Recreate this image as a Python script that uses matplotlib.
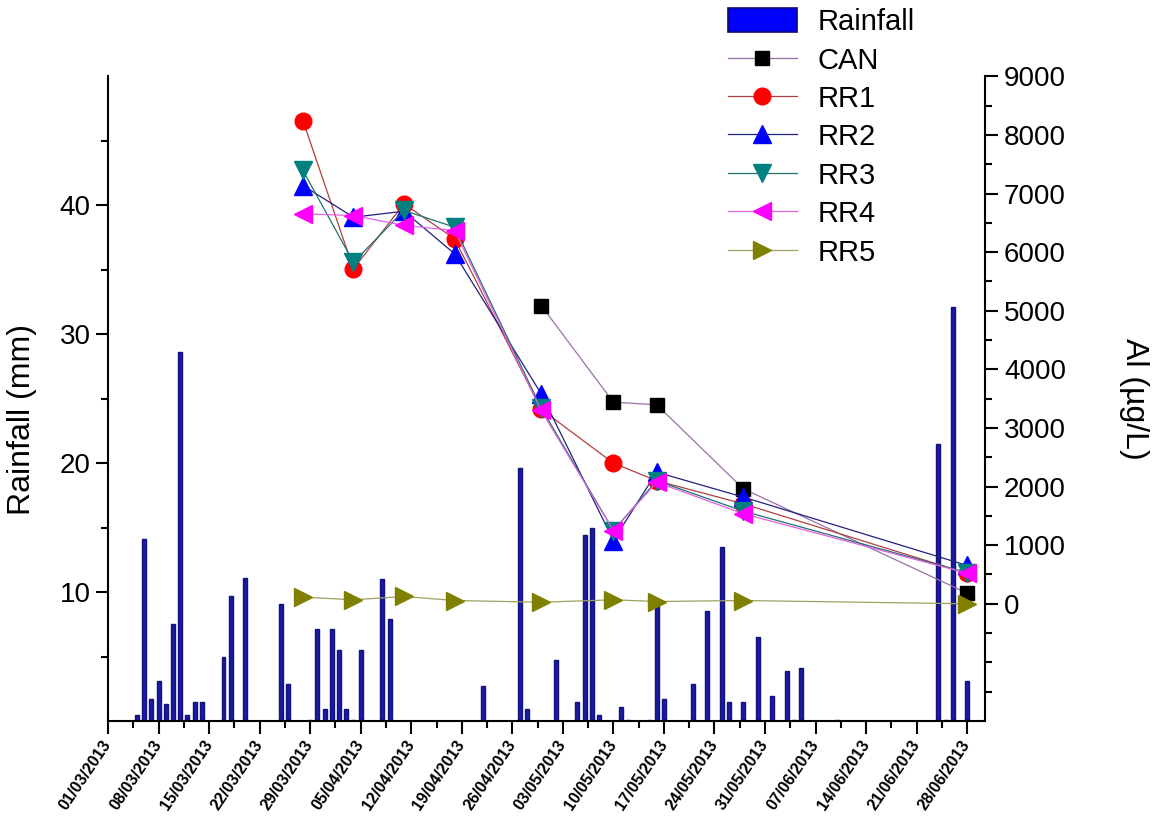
import numpy as np
import pandas as pd
import matplotlib
matplotlib.use('Agg')
import matplotlib.pyplot as plt
import matplotlib.dates as mdates
from matplotlib.ticker import FixedLocator
from matplotlib.patches import Patch

plt.rcParams['font.family'] = ['Liberation Sans', 'DejaVu Sans']

# Daily rainfall (mm)
rain_dates = ['05/03', '06/03', '07/03', '08/03', '09/03', '10/03', '11/03', '12/03', '13/03', '14/03',
              '17/03', '18/03', '20/03', '25/03', '26/03', '29/03', '30/03', '31/03', '01/04', '02/04',
              '03/04', '04/04', '05/04', '08/04', '09/04', '22/04', '27/04', '28/04', '02/05', '05/05',
              '06/05', '07/05', '08/05', '11/05', '12/05', '15/05', '16/05', '17/05', '21/05', '23/05',
              '25/05', '26/05', '28/05', '30/05', '01/06', '03/06', '04/06', '05/06', '10/06', '24/06',
              '25/06', '26/06', '28/06']
rain_mm = [0.5, 14.1, 1.7, 3.1, 1.3, 7.5, 28.6, 0.5, 1.5, 1.5,
           5.0, 9.7, 11.1, 9.1, 2.9, 0.1, 7.1, 0.9, 7.1, 5.5,
           0.9, 0.1, 5.5, 11.0, 7.9, 2.7, 19.6, 0.9, 4.7, 1.5,
           14.4, 15.0, 0.5, 1.1, 0.1, 0.1, 9.0, 1.7, 2.9, 8.5,
           13.5, 1.5, 1.5, 6.5, 1.9, 3.9, 0.1, 4.1, 0.1, 21.5,
           0.1, 32.1, 3.1]

# Al concentrations (ug/L)
al_dates = ['28/03', '04/04', '11/04', '18/04', '30/04', '10/05', '16/05', '28/05', '28/06']
can = [np.nan, np.nan, np.nan, np.nan, 5090, 3441, 3396, 1962, 181]
rr1 = [8247, 5717, 6826, 6229, 3320, 2400, 2100, 1706, 520]
rr2 = [7138, 6597, 6700, 5973, 3584, 1080, 2246, 1820, 654]
rr3 = [7395, 5829, 6712, 6427, 3340, 1250, 2100, 1580, 530]
rr4 = [6655, 6626, 6456, 6370, 3299, 1250, 2075, 1536, 522]
rr5 = [113, 68, 125, 56, 27, 68, 39, 56, 0]


def to_dt(lst):
    return pd.to_datetime([d + '/2013' for d in lst], format='%d/%m/%Y')


rain_x = to_dt(rain_dates)
al_x = to_dt(al_dates)

fig = plt.figure(figsize=(11.61, 8.18), dpi=100)
ax = fig.add_axes([0.093, 0.1186, 0.755, 0.788])
ax2 = ax.twinx()

ax.bar(rain_x, rain_mm, width=0.55, color='#1a1aa6', edgecolor='#12127a', linewidth=1.0)
handles = [Patch(facecolor='#0000ff', edgecolor='#0c0c70', linewidth=1.2, label='Rainfall')]

series = [
    ('CAN', can, 's', '#000000', '#9a70a8', 9.5),
    ('RR1', rr1, 'o', '#ff0000', '#b04040', 12),
    ('RR2', rr2, '^', '#0000ff', '#202080', 12.5),
    ('RR3', rr3, 'v', '#008080', '#207070', 12.5),
    ('RR4', rr4, '<', '#ff00ff', '#e060e0', 12.5),
    ('RR5', rr5, '>', '#808000', '#a0a060', 12.5),
]
for name, vals, mk, mc, lc, ms in series:
    ln, = ax2.plot(al_x, vals, color=lc, lw=0.9, marker=mk, markersize=ms,
                   markerfacecolor=mc, markeredgecolor=mc, label=name)
    handles.append(ln)

# x axis: weekly ticks
start = pd.Timestamp('2013-03-01')
ax.set_xlim(mdates.date2num(start), mdates.date2num(start) + 121.4)
major = pd.date_range('2013-03-01', '2013-06-28', freq='7D')
ax.xaxis.set_major_locator(FixedLocator(mdates.date2num(major)))
ax.xaxis.set_minor_locator(FixedLocator(mdates.date2num(major) + 3.5))
ax.xaxis.set_major_formatter(mdates.DateFormatter('%d/%m/%Y'))

# left axis
ax.set_ylim(0, 50)
ax.yaxis.set_major_locator(FixedLocator([10, 20, 30, 40]))
ax.yaxis.set_minor_locator(FixedLocator([5, 15, 25, 35, 45]))
ax.set_ylabel('Rainfall (mm)', fontsize=23)
ax.yaxis.set_label_coords(-0.081, 0.467)

# right axis
ax2.set_ylim(-2000, 9000)
ax2.yaxis.set_major_locator(FixedLocator(np.arange(0, 9001, 1000)))
ax2.yaxis.set_minor_locator(FixedLocator(np.arange(-1500, 9000, 500)))
ax2.set_ylabel('Al (µg/L)', fontsize=23, rotation=270, labelpad=60)

for a in (ax, ax2):
    a.spines['top'].set_visible(False)
    for s in a.spines.values():
        s.set_linewidth(1.5)
    a.tick_params(which='major', length=9, width=1.5, labelsize=20)
    a.tick_params(which='minor', length=5, width=1.5)
ax2.tick_params(axis='y', which='major', pad=5)
ax.tick_params(axis='x', which='major', labelsize=11.5, pad=6)
ax.spines['right'].set_visible(False)
ax2.spines['left'].set_visible(False)
ax2.spines['bottom'].set_visible(False)

for lab in ax.get_xticklabels():
    lab.set_rotation(56)
    lab.set_ha('right')
    lab.set_va('center')
    lab.set_rotation_mode('anchor')
    lab.set_fontweight('bold')

fig.legend(handles=handles, loc='upper left', bbox_to_anchor=(0.627, 0.990),
           frameon=False, fontsize=21, handlelength=2.36, handleheight=0.9,
           handletextpad=0.72, labelspacing=0.35, borderpad=0, borderaxespad=0)

fig.savefig('out.png', dpi=100)
